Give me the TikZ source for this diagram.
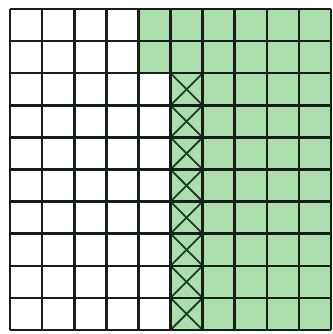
\documentclass[tikz,border=0pt]{standalone}
\begin{document}
\begin{tikzpicture}[x=1pt,y=-1pt,
  gridline/.style={draw=gridc,line width=2.6pt},
  crossline/.style={draw=crossc,line width=1.8pt},
  cellfill/.style={fill=greenc}]
\definecolor{greenc}{RGB}{170,222,172}
\definecolor{gridc}{RGB}{22,30,24}
\definecolor{crossc}{RGB}{30,60,38}
\useasboundingbox (0,0) rectangle (332,334);
\fill[white] (0,0) rectangle (332,334);
\def\cw{32.1}
\def\ox{10}
\def\oy{9}
% green regions
\fill[cellfill] (\ox+4*\cw,\oy) rectangle (\ox+10*\cw,\oy+2*\cw);
\fill[cellfill] (\ox+5*\cw,\oy+2*\cw) rectangle (\ox+10*\cw,\oy+10*\cw);
% crosses
\foreach \r in {2,...,9}{
  \draw[crossline] (\ox+5*\cw,\oy+\r*\cw) -- (\ox+6*\cw,\oy+\r*\cw+\cw);
  \draw[crossline] (\ox+6*\cw,\oy+\r*\cw) -- (\ox+5*\cw,\oy+\r*\cw+\cw);
}
% grid
\foreach \i in {0,...,10}{
  \draw[gridline] (\ox+\i*\cw,\oy) -- (\ox+\i*\cw,\oy+10*\cw);
  \draw[gridline] (\ox,\oy+\i*\cw) -- (\ox+10*\cw,\oy+\i*\cw);
}
\end{tikzpicture}
\end{document}
